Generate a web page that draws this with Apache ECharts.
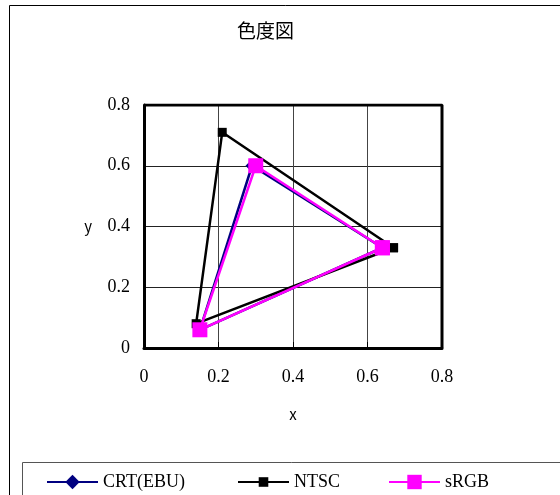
<!DOCTYPE html>
<html>
<head>
<meta charset="utf-8">
<script src="https://cdn.jsdelivr.net/npm/echarts@6/dist/echarts.min.js"></script>
<style>
  html, body { margin: 0; padding: 0; background: #fff; }
  #chart { width: 560px; height: 495px; }
</style>
</head>
<body>
<div id="chart"></div>
<script>
// Chromaticity coordinates (x, y) of the primaries, listed R, G, B and closed back to R
const seriesNames = ['CRT(EBU)', 'NTSC', 'sRGB'];
const crtX = [0.64, 0.29, 0.15, 0.64];
const crtY = [0.33, 0.60, 0.06, 0.33];
const ntscX = [0.67, 0.21, 0.14, 0.67];
const ntscY = [0.33, 0.71, 0.08, 0.33];
const srgbX = [0.64, 0.30, 0.15, 0.64];
const srgbY = [0.33, 0.60, 0.06, 0.33];
const tickValues = [0, 0.2, 0.4, 0.6, 0.8];

const pairs = (xs, ys) => xs.map((v, i) => [v, ys[i]]);
const serif = 'Liberation Serif';
const gothic = 'Noto Sans CJK JP';

const chart = echarts.init(document.getElementById('chart'), null, { renderer: 'canvas' });

const fmt = v => (tickValues.includes(v) ? String(v) : '');

const styles = [
  { color: '#000080', symbol: 'diamond', size: 13, width: 2.5, legendH: 18 },
  { color: '#000000', symbol: 'rect', size: 9, width: 2.5, legendH: 12 },
  { color: '#ff00ff', symbol: 'rect', size: 15, width: 2.5, legendH: 18 }
];
const dataSets = [pairs(crtX, crtY), pairs(ntscX, ntscY), pairs(srgbX, srgbY)];
const legendLeft = [46, 237, 388];

chart.setOption({
  animation: false,
  title: {
    text: '色度図',
    left: 237,
    top: 21,
    padding: 0,
    textStyle: { fontFamily: gothic, fontSize: 19, fontWeight: 'normal', color: '#000' }
  },
  graphic: [
    { type: 'rect', shape: { x: 9.5, y: 5.5, width: 560, height: 500 },
      style: { fill: 'none', stroke: '#000', lineWidth: 1 }, silent: true, z: -10 },
    { type: 'rect', shape: { x: 22.5, y: 462.5, width: 560, height: 60 },
      style: { fill: 'none', stroke: '#555', lineWidth: 1 }, silent: true, z: -10 }
  ],
  legend: seriesNames.map((name, i) => ({
    data: [name],
    left: legendLeft[i],
    top: 472,
    padding: 0,
    itemWidth: 51,
    itemHeight: styles[i].legendH,
    itemGap: 4,
    textStyle: { fontFamily: serif, fontSize: 18, lineHeight: 20, color: '#000' },
    selectedMode: false
  })),
  grid: { left: 144, top: 105, width: 298, height: 243, show: false },
  xAxis: {
    type: 'value', min: 0, max: 0.8, interval: 0.2,
    name: 'x', nameLocation: 'middle', nameGap: 59,
    nameTextStyle: { fontFamily: gothic, fontSize: 15, color: '#000' },
    axisLine: { show: true, onZero: false, lineStyle: { color: '#000', width: 3 } },
    axisTick: { show: true, inside: true, length: 6, lineStyle: { color: '#000', width: 1 } },
    axisLabel: { formatter: fmt, fontFamily: serif, fontSize: 18, color: '#000', margin: 20 },
    splitLine: { show: true, lineStyle: { color: '#444', width: 1 } }
  },
  yAxis: {
    type: 'value', min: 0, max: 0.8, interval: 0.2,
    name: 'y', nameLocation: 'middle', nameGap: 52, nameRotate: 0,
    nameTextStyle: { fontFamily: gothic, fontSize: 15, color: '#000' },
    axisLine: { show: true, onZero: false, lineStyle: { color: '#000', width: 3 } },
    axisTick: { show: false },
    axisLabel: { formatter: fmt, fontFamily: serif, fontSize: 18, color: '#000', margin: 14 },
    splitLine: { show: true, lineStyle: { color: '#222', width: 1 } }
  },
  series: seriesNames.map((name, i) => ({
    name,
    type: 'line',
    data: dataSets[i],
    symbol: styles[i].symbol,
    symbolSize: styles[i].size,
    showAllSymbol: true,
    itemStyle: { color: styles[i].color },
    lineStyle: { color: styles[i].color, width: styles[i].width },
    z: 2 + i
  })).concat([
    // right and top frame of the plot area
    {
      type: 'line', silent: true, symbol: 'none', z: 1,
      data: [[0, 0.8], [0.8, 0.8], [0.8, 0]],
      lineStyle: { color: '#000', width: 3 }
    }
  ])
});
</script>
</body>
</html>
